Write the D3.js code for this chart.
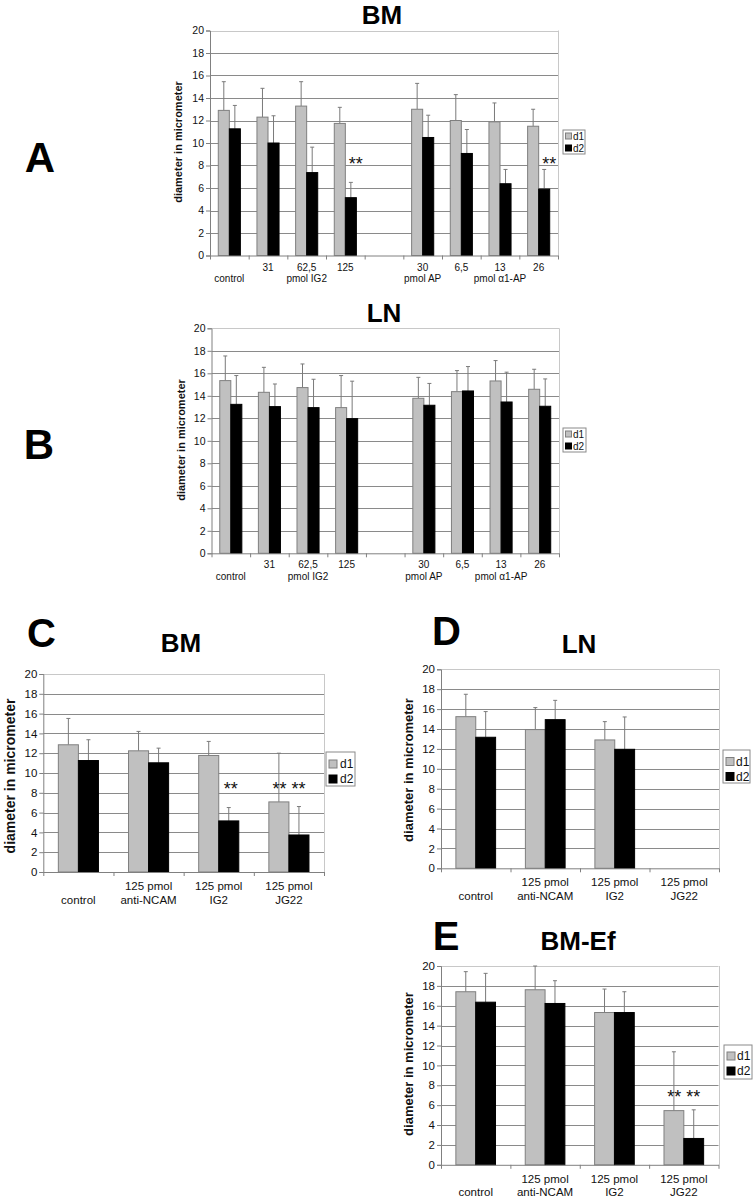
<!DOCTYPE html>
<html>
<head>
<meta charset="utf-8">
<style>
  body { margin: 0; background: #fff; }
  text { font-family: 'Liberation Sans', Arial, Helvetica, sans-serif; }
</style>
<script src="https://d3js.org/d3.v7.min.js"></script>
</head>
<body>
<div id="chart"></div>
<script>
// ---- data ----
var catsAB = [["", "control"], ["31", ""], ["62,5", "pmol IG2"], ["125", ""], ["", ""],
              ["30", "pmol AP"], ["6,5", ""], ["13", "pmol \u03b11-AP"], ["26", ""]];
var catsCDE = [["", "control"], ["125 pmol", "anti-NCAM"], ["125 pmol", "IG2"], ["125 pmol", "JG22"]];
var yTicks = [0, 2, 4, 6, 8, 10, 12, 14, 16, 18, 20];
var seriesNames = ["d1", "d2"];

// panel A, BM (mean and upper end of error bar)
var aD1 = [12.9, 12.3, 13.28, 11.74, null, 13.0, 12.0, 11.88, 11.49];
var aD1Up = [15.45, 14.86, 15.45, 13.17, null, 15.3, 14.3, 13.56, 13.0];
var aD2 = [11.26, 10.0, 7.37, 5.14, null, 10.49, 9.07, 6.38, 5.9];
var aD2Up = [13.34, 12.42, 9.63, 6.5, null, 12.47, 11.2, 7.65, 7.65];
var aStars = [{cat: 3, v: 8.47, on: "d2", txt: "**"}, {cat: 8, v: 8.47, on: "d2", txt: "**"}];

// panel B, LN
var bD1 = [15.35, 14.31, 14.73, 12.95, null, 13.78, 14.37, 15.32, 14.58];
var bD1Up = [17.54, 16.53, 16.83, 15.8, null, 15.64, 16.24, 17.13, 16.36];
var bD2 = [13.24, 13.04, 12.95, 11.97, null, 13.16, 14.43, 13.45, 13.07];
var bD2Up = [15.8, 15.05, 15.47, 15.3, null, 15.1, 16.6, 16.1, 15.5];

// panel C, BM
var cD1 = [12.85, 12.24, 11.77, 7.08];
var cD1Up = [15.51, 14.2, 13.19, 12.0];
var cD2 = [11.26, 11.03, 5.16, 3.74];
var cD2Up = [13.36, 12.51, 6.51, 6.61];
var cStars = [{cat: 2, v: 8.8, on: "d2", txt: "**"}, {cat: 3, v: 8.8, on: "both", txt: "** **"}];

// panel D, LN
var dD1 = [15.24, 13.94, 12.9, null];
var dD1Up = [17.49, 16.15, 14.74, null];
var dD2 = [13.17, 14.94, 11.96, null];
var dD2Up = [15.75, 16.88, 15.21, null];

// panel E, BM-Ef
var eD1 = [17.41, 17.61, 15.32, 5.45];
var eD1Up = [19.43, 20.0, 17.68, 11.37];
var eD2 = [16.36, 16.23, 15.32, 2.65];
var eD2Up = [19.26, 18.52, 17.41, 5.53];
var eStars = [{cat: 3, v: 7.25, on: "both", txt: "** **"}];

var W = 756, H = 1199;
var svg = d3.select("#chart").append("svg")
    .attr("width", W).attr("height", H)
    .style("background", "#fff");

function drawPanel(p) {
    var g = svg.append("g");
    var n = p.cats.length;

    var x = d3.scaleBand().domain(d3.range(n)).range([p.left, p.right]);
    var xs = d3.scaleBand().domain(seriesNames).range([0, x.bandwidth()]).paddingOuter(0.75);
    var y = d3.scaleLinear().domain([0, 20]).range([p.bottom, p.top]);

    // gridlines
    g.selectAll(".grid").data(yTicks.filter(function(t) { return t > 0; }))
      .enter().append("line")
        .attr("x1", p.left).attr("x2", p.right)
        .attr("y1", function(d) { return Math.round(y(d)) + 0.5; })
        .attr("y2", function(d) { return Math.round(y(d)) + 0.5; })
        .attr("stroke", function(d) { return d === 20 ? "#c8c8c8" : "#8a8a8a"; })
        .attr("stroke-width", 1);
    // right border of plot area
    g.append("line")
        .attr("x1", Math.round(p.right) + 0.5).attr("x2", Math.round(p.right) + 0.5)
        .attr("y1", y(20)).attr("y2", y(0))
        .attr("stroke", "#c8c8c8");

    // bars
    var rows = [];
    p.cats.forEach(function(c, i) {
        if (p.d1[i] != null) rows.push({i: i, s: "d1", v: p.d1[i], up: p.d1Up[i]});
        if (p.d2[i] != null) rows.push({i: i, s: "d2", v: p.d2[i], up: p.d2Up[i]});
    });
    var bw = xs.bandwidth();
    var capW = 2;

    // error bars (drawn under bars so they start at bar tops)
    var eb = g.selectAll(".err").data(rows).enter().append("g");
    eb.append("line")
        .attr("x1", function(d) { return x(d.i) + xs(d.s) + bw / 2; })
        .attr("x2", function(d) { return x(d.i) + xs(d.s) + bw / 2; })
        .attr("y1", function(d) { return y(d.v); })
        .attr("y2", function(d) { return y(d.up); })
        .attr("stroke", "#7a7a7a").attr("stroke-width", 1);
    eb.append("line")
        .attr("x1", function(d) { return x(d.i) + xs(d.s) + bw / 2 - capW; })
        .attr("x2", function(d) { return x(d.i) + xs(d.s) + bw / 2 + capW; })
        .attr("y1", function(d) { return y(d.up); })
        .attr("y2", function(d) { return y(d.up); })
        .attr("stroke", "#7a7a7a").attr("stroke-width", 1);

    g.selectAll(".bar").data(rows).enter().append("rect")
        .attr("x", function(d) { return x(d.i) + xs(d.s); })
        .attr("width", bw)
        .attr("y", function(d) { return y(d.v); })
        .attr("height", function(d) { return y(0) - y(d.v); })
        .attr("fill", function(d) { return d.s === "d1" ? "#c0c0c0" : "#000"; })
        .attr("stroke", function(d) { return d.s === "d1" ? "#7f7f7f" : "#000"; })
        .attr("stroke-width", 1);

    // y axis
    var ya = g.append("g")
        .attr("transform", "translate(" + p.left + ",0)")
        .call(d3.axisLeft(y).tickValues(yTicks).tickSize(4).tickPadding(2).tickFormat(d3.format("d")));
    ya.select(".domain").attr("stroke", "#808080");
    ya.selectAll(".tick line").attr("stroke", "#808080");
    ya.selectAll(".tick text").attr("font-size", p.tickFont).attr("fill", "#111")
        .style("font-family", "'Liberation Sans', Arial, sans-serif");

    // x axis, tick marks at category boundaries
    var xb = d3.scaleLinear().domain([0, n]).range([p.left, p.right]);
    var xa = g.append("g")
        .attr("transform", "translate(0," + p.bottom + ")")
        .call(d3.axisBottom(xb).tickValues(d3.range(n + 1)).tickSize(4).tickSizeOuter(0).tickFormat(""));
    xa.select(".domain").attr("stroke", "#808080");
    xa.selectAll(".tick line").attr("stroke", "#808080");

    // category labels (two rows)
    p.cats.forEach(function(c, i) {
        c.forEach(function(t, r) {
            if (!t) return;
            g.append("text")
                .attr("x", x(i) + x.bandwidth() / 2)
                .attr("y", p.bottom + p.rowY[r])
                .attr("text-anchor", "middle")
                .attr("font-size", p.catFont)
                .attr("fill", "#111")
                .text(t);
        });
    });

    // significance stars
    (p.stars || []).forEach(function(s) {
        var cx = s.on === "d2" ? x(s.cat) + xs("d2") + bw / 2 + p.starDx
                               : x(s.cat) + x.bandwidth() / 2;
        g.append("text")
            .attr("x", cx)
            .attr("y", y(s.v) + p.starFont * 0.56)
            .attr("text-anchor", "middle")
            .attr("font-size", p.starFont)
            .attr("fill", "#111")
            .text(s.txt);
    });

    // y axis title
    g.append("text")
        .attr("transform", "translate(" + p.yLab[0] + "," + p.yLab[1] + ") rotate(-90)")
        .attr("text-anchor", "middle")
        .attr("dominant-baseline", "central")
        .attr("font-size", p.yLabFont)
        .attr("font-weight", "bold")
        .attr("fill", "#111")
        .text("diameter in micrometer");

    // legend
    var L = p.legend;
    var lg = g.append("g").attr("transform", "translate(" + L.x + "," + L.y + ")");
    lg.append("rect").attr("width", L.w).attr("height", L.h)
        .attr("fill", "#fff").attr("stroke", "#8a8a8a");
    seriesNames.forEach(function(s, k) {
        var cy = L.rows[k];
        lg.append("rect")
            .attr("x", L.sx).attr("y", cy - L.sw / 2)
            .attr("width", L.sw).attr("height", L.sw)
            .attr("fill", s === "d1" ? "#c0c0c0" : "#000")
            .attr("stroke", s === "d1" ? "#7f7f7f" : "#000");
        lg.append("text")
            .attr("x", L.tx).attr("y", cy)
            .attr("dominant-baseline", "central")
            .attr("font-size", L.font)
            .attr("fill", "#111")
            .text(s);
    });

    // titles
    g.append("text")
        .attr("x", p.title[0]).attr("y", p.title[1])
        .attr("text-anchor", "middle")
        .attr("font-size", p.titleFont).attr("font-weight", "bold")
        .text(p.titleText);
    g.append("text")
        .attr("x", p.letter[0]).attr("y", p.letter[1])
        .attr("text-anchor", "middle")
        .attr("font-size", p.letterFont).attr("font-weight", "bold")
        .text(p.letterText);
}

var smallFonts = {tickFont: 10.5, catFont: 10, yLabFont: 11, starFont: 18, rowY: [15, 26.5], titleFont: 26, letterFont: 42};
var bigFonts = {tickFont: 11.5, catFont: 11.5, yLabFont: 13, starFont: 18, rowY: [18, 31.5], titleFont: 26, letterFont: 40};

drawPanel(Object.assign({}, smallFonts, {
    cats: catsAB, d1: aD1, d1Up: aD1Up, d2: aD2, d2Up: aD2Up, stars: aStars, starDx: 5,
    left: 210, right: 558, top: 30.5, bottom: 255.5,
    yLab: [178, 142],
    legend: {x: 563, y: 130, w: 22, h: 24, rows: [6, 18], sx: 2.5, sw: 6, tx: 10, font: 10},
    title: [382, 24], titleText: "BM", letter: [40, 172], letterText: "A"
}));

drawPanel(Object.assign({}, smallFonts, {
    cats: catsAB, d1: bD1, d1Up: bD1Up, d2: bD2, d2Up: bD2Up,
    left: 211.5, right: 559, top: 328.3, bottom: 553.3,
    yLab: [181, 440],
    legend: {x: 563, y: 428, w: 23, h: 24, rows: [6, 18], sx: 2.5, sw: 6, tx: 10, font: 10},
    title: [384, 322], titleText: "LN", letter: [39, 459], letterText: "B"
}));

drawPanel(Object.assign({}, bigFonts, {
    cats: catsCDE, d1: cD1, d1Up: cD1Up, d2: cD2, d2Up: cD2Up, stars: cStars, starDx: 2,
    left: 43.3, right: 324, top: 674, bottom: 872,
    yLabFont: 14, yLab: [10, 776],
    legend: {x: 326, y: 752, w: 29, h: 34, rows: [12, 27], sx: 3, sw: 8, tx: 14, font: 12},
    title: [181, 652], titleText: "BM", letter: [41.5, 647], letterText: "C"
}));

drawPanel(Object.assign({}, bigFonts, {
    cats: catsCDE, d1: dD1, d1Up: dD1Up, d2: dD2, d2Up: dD2Up,
    left: 441, right: 719, top: 669.3, bottom: 868.3,
    yLab: [408, 770],
    legend: {x: 723, y: 750, w: 27, h: 33, rows: [11.5, 26.5], sx: 3, sw: 8, tx: 13, font: 12},
    title: [579, 653], titleText: "LN", letter: [446.5, 645], letterText: "D"
}));

drawPanel(Object.assign({}, bigFonts, {
    cats: catsCDE, d1: eD1, d1Up: eD1Up, d2: eD2, d2Up: eD2Up, stars: eStars,
    left: 441, right: 718.5, top: 966, bottom: 1164.8,
    yLab: [408, 1064],
    legend: {x: 724, y: 1045, w: 28, h: 34, rows: [11, 26], sx: 3, sw: 8, tx: 13, font: 12},
    title: [578, 950], titleText: "BM-Ef", letter: [446, 950], letterText: "E"
}));
</script>
</body>
</html>
